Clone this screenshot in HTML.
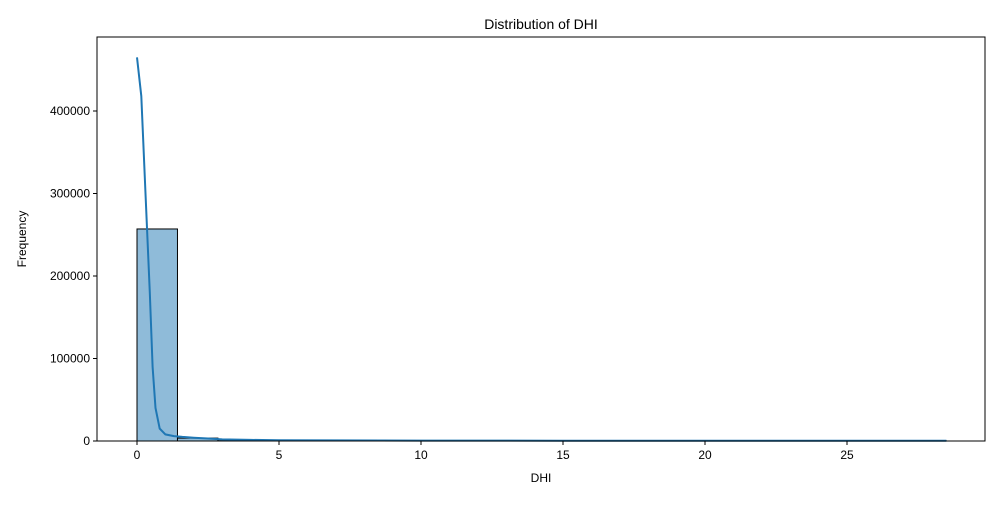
<!DOCTYPE html>
<html><head><meta charset="utf-8"><style>
body{margin:0;background:#fff;font-family:"Liberation Sans",sans-serif}
svg text{font-family:"Liberation Sans",sans-serif;fill:#000}
</style></head><body>
<svg id="c" width="1000" height="500">
<rect x="0" y="0" width="1000" height="500" fill="#fff"/>
</svg>
<script>
const binCounts=[257000,3500,1500,900,700,600,500,450,400,350,300,300,250,250,200,200,200,150,150,150];
const binStart=0, binEnd=28.5;
const kdeX=[0,0.15,0.3,0.45,0.55,0.65,0.8,1.0,1.3,1.6,2,2.5,3,4,5,7,10,15,20,25,28.5];
const kdeY=[465000,418000,300000,180000,90000,40000,15000,8000,6000,5000,4000,3000,2000,1300,1000,700,500,400,300,300,300];
const xTicks=[0,5,10,15,20,25];
const yTicks=[0,100000,200000,300000,400000];
const L=97,R=985,T=37,B=441;
const sx=v=>137+v*28.4;
const sy=v=>441-v*0.000825;
const svg=document.getElementById('c');
const NS='http://www.w3.org/2000/svg';
function mk(t,a,txt){const e=document.createElementNS(NS,t);for(const k in a)e.setAttribute(k,a[k]);if(txt!==undefined)e.textContent=txt;svg.appendChild(e);return e;}
const w=(binEnd-binStart)/binCounts.length;
binCounts.forEach((c,i)=>{
 const x0=sx(binStart+i*w),x1=sx(binStart+(i+1)*w);
 const b=mk('rect',{x:x0,y:sy(c),width:x1-x0,height:B-sy(c),fill:'rgba(31,119,180,0.5)',stroke:'#000','stroke-width':1});
 
 
});
const d=kdeX.map((x,i)=>(i?'L':'M')+sx(x).toFixed(1)+','+sy(kdeY[i]).toFixed(1)).join(' ');
const k=mk('path',{d:d,fill:'none',stroke:'#1f77b4','stroke-width':2});


const fr=mk('rect',{x:L,y:T,width:R-L,height:B-T,fill:'none',stroke:'#000','stroke-width':1});


xTicks.forEach(v=>{
 mk('line',{x1:sx(v),x2:sx(v),y1:B,y2:B+4,stroke:'#000'});
 const t=mk('text',{x:sx(v),y:B+18,'text-anchor':'middle','font-size':12},v);
 
 
});
yTicks.forEach(v=>{
 mk('line',{x1:L-4,x2:L,y1:sy(v),y2:sy(v),stroke:'#000'});
 const t=mk('text',{x:L-7,y:sy(v)+4,'text-anchor':'end','font-size':12},v);
 
 
});
const tt=mk('text',{x:541,y:29,'text-anchor':'middle','font-size':14},'Distribution of DHI');


const xt=mk('text',{x:541,y:482,'text-anchor':'middle','font-size':12},'DHI');


const yt=mk('text',{x:26,y:239,'text-anchor':'middle','font-size':12,transform:'rotate(-90 26 239)'},'Frequency');


</script>
</body></html>
